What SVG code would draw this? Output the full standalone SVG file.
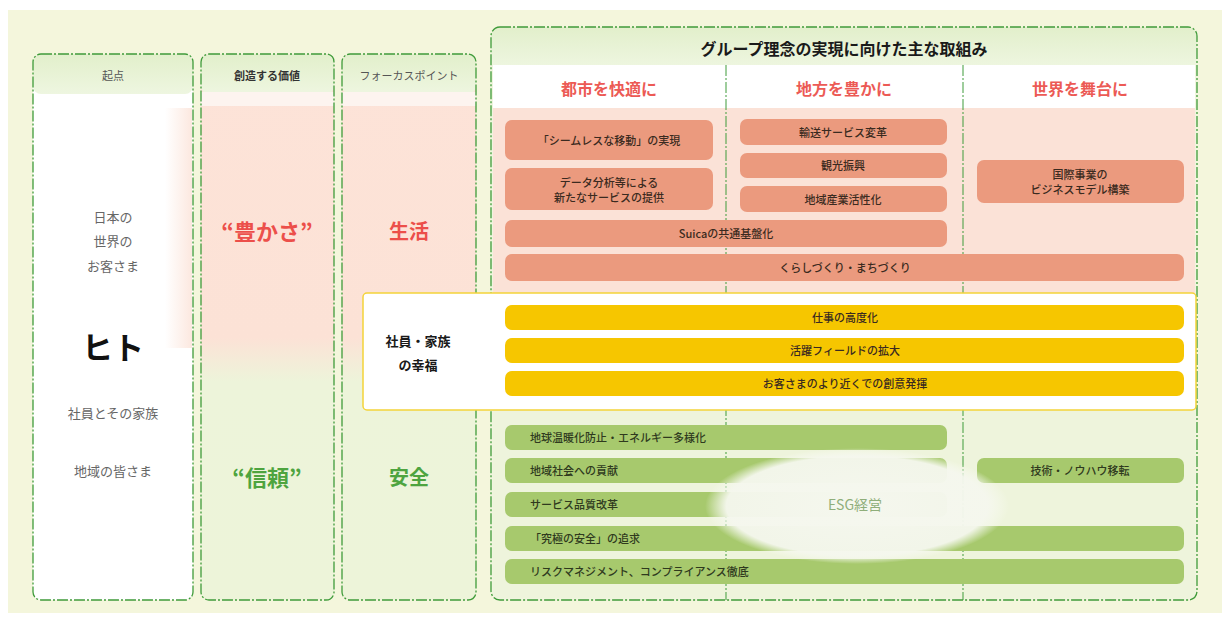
<svg xmlns="http://www.w3.org/2000/svg" width="1230" height="617" viewBox="0 0 1230 617">
<style>
text{font-family:"Noto Sans CJK JP","Noto Sans",sans-serif;text-anchor:middle;dominant-baseline:central}
.frame{fill:none;stroke:#3f9b3a;stroke-width:1.3;stroke-dasharray:11 2 2 2}
.div{stroke:#3f9b3a;stroke-width:1;stroke-dasharray:11 2 2 2}
.hd{font-size:11px;fill:#555}
.sub{font-size:16px;font-weight:700;fill:#ec5a55}
.pk{fill:#eb9a7e}
.gr{fill:#a7c96d}
.yl{fill:#f6c600}
.bt{font-size:11px;font-weight:500;fill:#3a2a20}
.gt{font-size:11px;font-weight:500;fill:#2f3a1e;text-anchor:start}
.lt{font-size:13px;fill:#666}
</style>
<defs>
<linearGradient id="colg" x1="0" y1="0" x2="0" y2="1">
<stop offset="0" stop-color="#fde3d8"/>
<stop offset="0.52" stop-color="#fce2d6"/>
<stop offset="0.6" stop-color="#edf4da"/>
<stop offset="1" stop-color="#edf4d9"/>
</linearGradient>
<linearGradient id="hdg" x1="0" y1="0" x2="0" y2="1">
<stop offset="0" stop-color="#e2efcb"/>
<stop offset="1" stop-color="#eef6e0"/>
</linearGradient>
<linearGradient id="edge" x1="0" y1="0" x2="1" y2="0">
<stop offset="0" stop-color="#fbe2d7" stop-opacity="0"/>
<stop offset="1" stop-color="#fbe2d7" stop-opacity="0.8"/>
</linearGradient>
<radialGradient id="esg" cx="0.5" cy="0.5" r="0.5">
<stop offset="0" stop-color="#f5f7ee" stop-opacity="1"/>
<stop offset="0.86" stop-color="#f5f7ee" stop-opacity="0.96"/>
<stop offset="1" stop-color="#f8faf2" stop-opacity="0"/>
</radialGradient>
</defs>
<rect x="0" y="0" width="1230" height="617" fill="#ffffff"/>
<rect x="8" y="10" width="1214" height="603" fill="#f4f6dc"/>

<g id="col-origin">
<rect x="33" y="54" width="160" height="546" rx="8" fill="#ffffff"/>
<rect x="33" y="54" width="160" height="40" rx="8" fill="url(#hdg)"/>
<rect x="165" y="108" width="27" height="240" fill="url(#edge)"/>
<rect x="33" y="54" width="160" height="546" rx="8" class="frame"/>
<text x="113" y="75" class="hd">起点</text>
<text x="113" y="216" class="lt">日本の</text>
<text x="113" y="240" class="lt">世界の</text>
<text x="113" y="265" class="lt">お客さま</text>
<text x="113" y="345" style="font-size:31px;font-weight:700;fill:#111">ヒト</text>
<text x="113" y="412" class="lt">社員とその家族</text>
<text x="113" y="470" class="lt">地域の皆さま</text>
</g>

<g id="col-value">
<rect x="201" y="54" width="133" height="546" rx="8" fill="url(#colg)"/>
<rect x="201" y="54" width="133" height="40" rx="8" fill="url(#hdg)"/>
<rect x="201" y="92" width="133" height="14" fill="#fdf4ef"/>
<rect x="201" y="54" width="133" height="546" rx="8" class="frame"/>
<text x="267" y="75" class="hd" style="fill:#333;font-weight:700">創造する価値</text>
<text x="267" y="230" style="font-size:22px;font-weight:700;fill:#ec4f4a">“豊かさ”</text>
<text x="267" y="476" style="font-size:22px;font-weight:700;fill:#4ea43f">“信頼”</text>
</g>

<g id="col-focus">
<rect x="342" y="54" width="134" height="546" rx="8" fill="url(#colg)"/>
<rect x="342" y="54" width="134" height="40" rx="8" fill="url(#hdg)"/>
<rect x="342" y="92" width="134" height="14" fill="#fdf4ef"/>
<rect x="342" y="54" width="134" height="546" rx="8" class="frame"/>
<text x="409" y="75" class="hd">フォーカスポイント</text>
<text x="409" y="230" style="font-size:20px;font-weight:700;fill:#ec4f4a">生活</text>
<text x="409" y="476" style="font-size:20px;font-weight:700;fill:#4ea43f">安全</text>
</g>

<g id="col-initiatives">
<rect x="491" y="27" width="706" height="573" rx="9" fill="#f0f5de"/>
<rect x="491" y="27" width="706" height="40" rx="9" fill="url(#hdg)"/>
<rect x="493" y="65" width="702" height="43" fill="#ffffff"/>
<rect x="493" y="108" width="702" height="185" fill="#fbe2d7"/>
<rect x="493" y="410" width="702" height="188" fill="#eef4dc"/>
<line x1="726" y1="65" x2="726" y2="600" class="div"/>
<line x1="963" y1="65" x2="963" y2="600" class="div"/>
<rect x="491" y="27" width="706" height="573" rx="9" class="frame"/>
<text x="844" y="48" style="font-size:16px;font-weight:700;fill:#1a1a1a">グループ理念の実現に向けた主な取組み</text>
<text x="609" y="88" class="sub">都市を快適に</text>
<text x="844" y="88" class="sub">地方を豊かに</text>
<text x="1080" y="88" class="sub">世界を舞台に</text>
</g>

<g id="n-seamless"><rect x="505" y="120" width="208" height="40" rx="7" class="pk"/><text x="609" y="140" class="bt">「シームレスな移動」の実現</text></g>
<g id="n-data"><rect x="505" y="168" width="208" height="42" rx="7" class="pk"/><text x="609" y="182" class="bt">データ分析等による</text><text x="609" y="197" class="bt">新たなサービスの提供</text></g>
<g id="n-transport"><rect x="740" y="119" width="207" height="26" rx="7" class="pk"/><text x="843" y="132" class="bt">輸送サービス変革</text></g>
<g id="n-tourism"><rect x="740" y="153" width="207" height="25" rx="7" class="pk"/><text x="843" y="165" class="bt">観光振興</text></g>
<g id="n-industry"><rect x="740" y="186" width="207" height="26" rx="7" class="pk"/><text x="843" y="199" class="bt">地域産業活性化</text></g>
<g id="n-intl"><rect x="977" y="160" width="207" height="43" rx="7" class="pk"/><text x="1080" y="174" class="bt">国際事業の</text><text x="1080" y="189" class="bt">ビジネスモデル構築</text></g>
<g id="n-suica"><rect x="505" y="220" width="442" height="27" rx="7" class="pk"/><text x="726" y="233" class="bt">Suicaの共通基盤化</text></g>
<g id="n-kurashi"><rect x="505" y="254" width="679" height="27" rx="7" class="pk"/><text x="845" y="267" class="bt">くらしづくり・まちづくり</text></g>

<g id="n-happiness">
<rect x="363" y="293" width="833" height="117" rx="4" fill="#ffffff" stroke="#f4d33a" stroke-width="1.5"/>
<text x="418" y="340" style="font-size:13px;font-weight:700;fill:#1a1a1a">社員・家族</text>
<text x="418" y="364" style="font-size:13px;font-weight:700;fill:#1a1a1a">の幸福</text>
</g>
<g id="n-work"><rect x="505" y="305" width="679" height="25" rx="7" class="yl"/><text x="845" y="317" class="bt">仕事の高度化</text></g>
<g id="n-field"><rect x="505" y="338" width="679" height="25" rx="7" class="yl"/><text x="845" y="350" class="bt">活躍フィールドの拡大</text></g>
<g id="n-creativity"><rect x="505" y="371" width="679" height="25" rx="7" class="yl"/><text x="845" y="383" class="bt">お客さまのより近くでの創意発揮</text></g>

<g id="n-climate"><rect x="505" y="425" width="442" height="25" rx="7" class="gr"/><text x="530" y="437" class="gt">地球温暖化防止・エネルギー多様化</text></g>
<g id="n-community"><rect x="505" y="458" width="442" height="25" rx="7" class="gr"/><text x="530" y="470" class="gt">地域社会への貢献</text></g>
<g id="n-quality"><rect x="505" y="492" width="442" height="25" rx="7" class="gr"/><text x="530" y="504" class="gt">サービス品質改革</text></g>
<g id="n-safety"><rect x="505" y="526" width="679" height="25" rx="7" class="gr"/><text x="530" y="538" class="gt">「究極の安全」の追求</text></g>
<g id="n-risk"><rect x="505" y="559" width="679" height="25" rx="7" class="gr"/><text x="530" y="571" class="gt">リスクマネジメント、コンプライアンス徹底</text></g>
<g id="n-tech"><rect x="977" y="458" width="207" height="25" rx="7" class="gr"/><text x="1080" y="470" class="bt" style="fill:#2f3a1e">技術・ノウハウ移転</text></g>

<g id="n-esg">
<ellipse cx="857" cy="506" rx="152" ry="58" fill="url(#esg)"/>
<text x="855" y="504" style="font-size:14px;fill:#8fae7a">ESG経営</text>
</g>

<g id="connectors"></g>
</svg>
